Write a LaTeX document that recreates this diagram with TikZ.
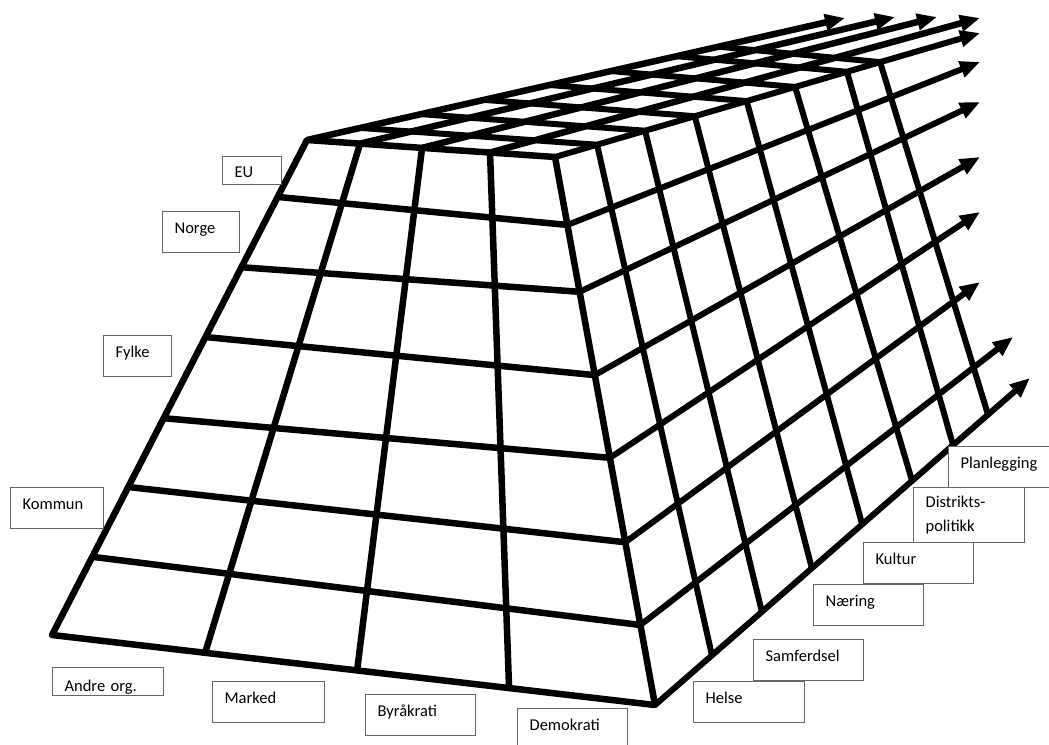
\documentclass[tikz,border=0pt]{standalone}
\usepackage{fontspec}
\setmainfont{Carlito}
\usetikzlibrary{arrows.meta,calc}

\begin{document}
\begin{tikzpicture}[x=1pt, y=-1pt,
    gridline/.style={line width=6pt, line join=round},
    frontline/.style={line width=6.5pt, line join=round},
    rowarrow/.style={gridline, -{Triangle[length=20pt, width=16pt]}},
    lbl/.style={draw=black!60, line width=1.2pt, fill=white, anchor=north west,
        inner xsep=12pt, inner ysep=0pt, align=left,
        font=\fontsize{16.5pt}{24pt}\selectfont},
    lblbox/.style={lbl, text height=22pt, text depth=19pt}
]
\useasboundingbox (0,0) rectangle (1049,744);

% Corners of the front face
\coordinate (ftl) at (307,140);
\coordinate (ftr) at (555,157);
\coordinate (fbr) at (655,705);
\coordinate (fbl) at (52,635);

% Arrow tips (top face)
\coordinate (a0) at (845,18);
\coordinate (a1) at (895,17);
\coordinate (a2) at (937,17);
\coordinate (a3) at (980,18);
% Arrow tips (side face)
\coordinate (b0) at (980,33);
\coordinate (b1) at (980,62);
\coordinate (b2) at (980,102);
\coordinate (b3) at (980,157);
\coordinate (b4) at (980,212);
\coordinate (b5) at (980,282);
\coordinate (b6) at (1013,337);
\coordinate (b7) at (1030,378);

% Back corners of the side face
\coordinate (rtr) at ($(ftr)!.765!(b0)$);
\coordinate (rbr) at ($(fbr)!.888!(b7)$);

% Front face
\draw[frontline] (ftl) -- (ftr) -- (fbr) -- (fbl) -- cycle;
\foreach \t/\b in {.214/.254, .464/.506, .738/.758}
  \draw[frontline] ($(ftl)!\t!(ftr)$) -- ($(fbl)!\b!(fbr)$);
\foreach \l/\r in {.115/.124, .257/.246, .398/.398, .562/.549, .701/.703, .842/.854}
  \draw[frontline] ($(ftl)!\l!(fbl)$) -- ($(ftr)!\r!(fbr)$);

% Side face rows, running out as arrows
\foreach \r/\tip in {0/b0, .124/b1, .246/b2, .398/b3, .549/b4, .703/b5, .854/b6, 1/b7}
  \draw[rowarrow] ($(ftr)!\r!(fbr)$) -- (\tip);

% Top face lines, running out as arrows
\foreach \t/\tip in {0/a0, .214/a1, .464/a2, .738/a3}
  \draw[rowarrow, line width=6.5pt] ($(ftl)!\t!(ftr)$) -- (\tip);

% Cross lines over the top and down the side
\foreach \t/\b in {.099/.171, .212/.321, .329/.471, .451/.622, .565/.772, .687/.895, .765/1}
  \draw[gridline] ($(ftl)!\t!(a0)$) -- ($(ftr)!\t!(b0)$) -- ($(fbr)!\b!(rbr)$);

% Levels
\node[lblbox, text width=35pt, text height=21pt, text depth=7pt] (eu) at (222,156) {EU};
\node[lblbox, text width=53pt] (norge) at (162,211) {Norge};
\node[lblbox, text width=44pt] (fylke) at (103,335) {Fylke};
\node[lblbox, text width=69pt] (kommun) at (10,487) {Kommun};

% Forms
\node[lblbox, text width=87pt, text height=24pt, text depth=4pt] (andre) at (52,667) {Andre org.};
\node[lblbox, text width=88pt] (marked) at (212,681) {Marked};
\node[lblbox, text width=86pt] (byraakrati) at (365,694) {Byråkrati};
\node[lblbox, text width=86pt] (demokrati) at (517,708) {Demokrati};

% Sectors
\node[lblbox, text width=87pt] (helse) at (693,681) {Helse};
\node[lblbox, text width=86pt] (samferdsel) at (753,639) {Samferdsel};
\node[lblbox, text width=86pt] (naering) at (813,584) {Næring};
\node[lblbox, text width=86pt] (kultur) at (863,542) {Kultur};
\node[lbl, text width=87pt, minimum height=55pt] (distrikt) at (913,487) {Distrikts-\\politikk};
\node[lblbox, text width=86pt] (plan) at (948,446) {Planlegging};

\end{tikzpicture}
\end{document}
